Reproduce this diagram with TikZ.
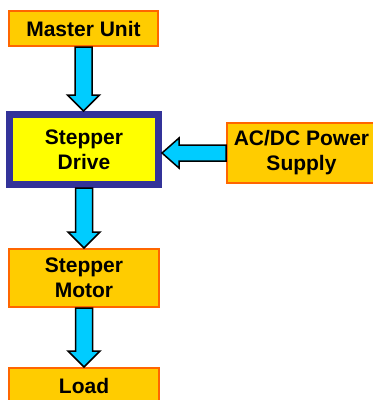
\documentclass[tikz,border=0pt]{standalone}
\usepackage{fontspec}
\setmainfont{Liberation Sans}
\usetikzlibrary{calc}
\definecolor{boxfill}{RGB}{255,204,0}
\definecolor{boxline}{RGB}{255,102,0}
\definecolor{navy}{RGB}{51,51,153}
\definecolor{drivefill}{RGB}{255,255,0}
\definecolor{arrowfill}{RGB}{0,204,255}
\tikzset{
  box/.style={draw=boxline, fill=boxfill, line width=2pt, align=center,
    font=\fontsize{21}{25}\selectfont\bfseries, inner sep=0pt},
  drivebox/.style={draw=navy, fill=drivefill, line width=7pt, align=center,
    font=\fontsize{21}{25}\selectfont\bfseries, inner sep=0pt},
  arr/.style={draw=black, fill=arrowfill, line width=1.5pt, line join=miter}
}
\newcommand\downarrowbox[2]{%
  \path[arr] let \p1=(#1.south), \p2=(#2.north) in
    (\x1-8.5pt,\y1) -- (\x1+8.5pt,\y1) -- (\x1+8.5pt,\y2+16pt) -- (\x1+16pt,\y2+16pt)
    -- (\x1,\y2) -- (\x1-16pt,\y2+16pt) -- (\x1-8.5pt,\y2+16pt) -- cycle;}
\begin{document}
\begin{tikzpicture}[x=1pt,y=-1pt]
\useasboundingbox (0,0) rectangle (373,400);
\node[box, minimum width=149pt, minimum height=35pt] (master) at (83.5,28.5) {Master Unit};
\node[drivebox, minimum width=149pt, minimum height=70pt] (drive) at (84,149.5) {Stepper\\Drive};
\node[box, minimum width=149pt, minimum height=60pt] (power) at (301.5,153) {AC/DC Power\\Supply};
\node[box, minimum width=150pt, minimum height=58pt] (motor) at (84,278) {Stepper\\Motor};
\node[box, minimum width=150pt, minimum height=36pt] (load) at (84,386) {Load};
\downarrowbox{master}{drive}
\downarrowbox{drive}{motor}
\downarrowbox{motor}{load}
\path[arr] let \p1=(power.west), \p2=(drive.east) in
  (\x1,\y1+8pt) -- (\x1,\y1-8pt) -- (\x2+17pt,\y1-8pt) -- (\x2+17pt,\y1-15pt)
  -- (\x2,\y1) -- (\x2+17pt,\y1+15pt) -- (\x2+17pt,\y1+8pt) -- cycle;
\end{tikzpicture}
\end{document}
